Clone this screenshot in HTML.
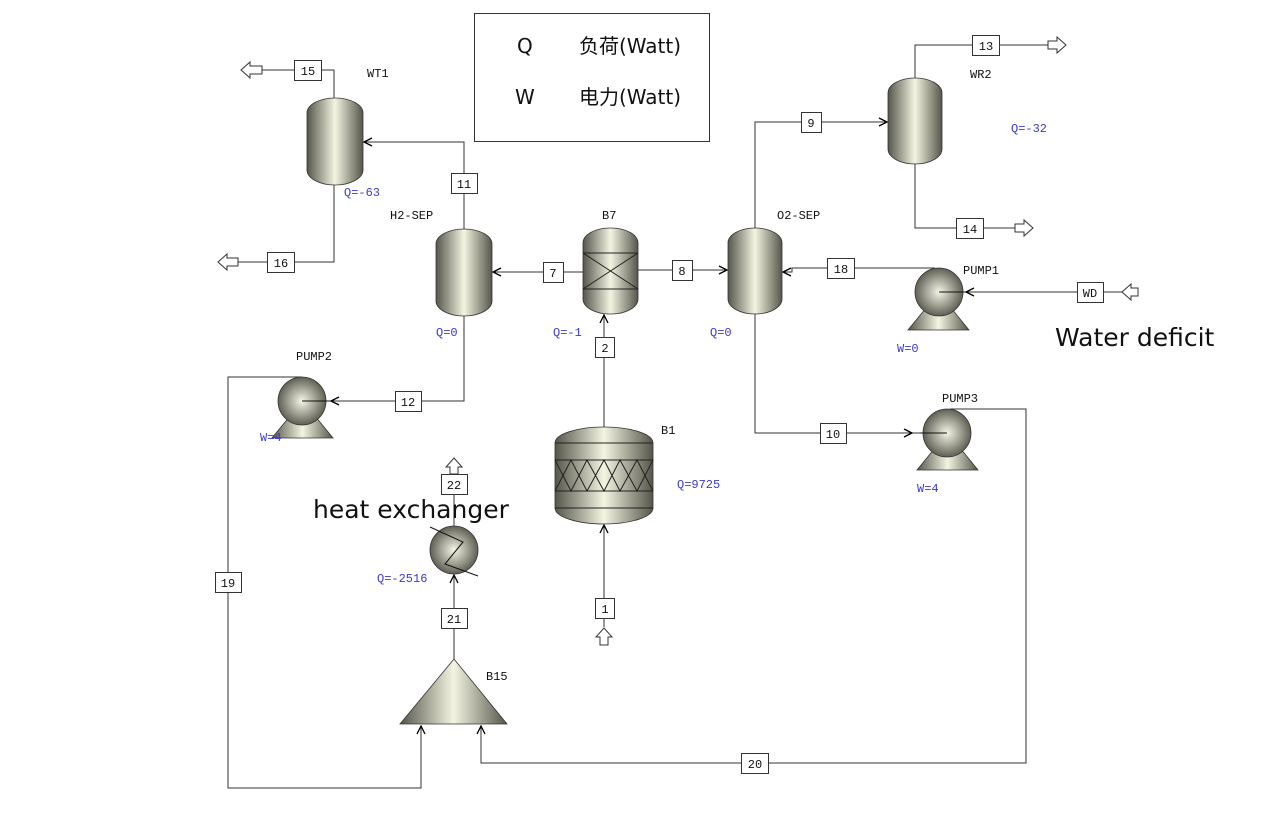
<!DOCTYPE html>
<html><head><meta charset="utf-8"><style>
html,body{margin:0;padding:0;background:#fff;}
svg{display:block;}
.m{font-family:"Liberation Mono","DejaVu Sans Mono",monospace;font-size:12px;fill:#111;}
.b{font-family:"Liberation Mono","DejaVu Sans Mono",monospace;font-size:12px;fill:#3a3ad0;}
.big{font-family:"DejaVu Sans","Liberation Sans",sans-serif;font-size:25px;fill:#111;}
.lg{font-family:"DejaVu Sans","Liberation Sans","Noto Sans CJK SC",sans-serif;font-size:20px;fill:#111;}
</style></head><body>
<svg width="1269" height="817" viewBox="0 0 1269 817" xmlns="http://www.w3.org/2000/svg">
<defs>
<linearGradient id="g" x1="0" x2="1" y1="0" y2="0">
<stop offset="0" stop-color="#55554a"/><stop offset="0.5" stop-color="#f4f4e2"/><stop offset="1" stop-color="#55554a"/>
</linearGradient>
<radialGradient id="rg" cx="0.5" cy="0.5" r="0.55">
<stop offset="0" stop-color="#f6f6e6"/><stop offset="1" stop-color="#505046"/>
</radialGradient>
<marker id="ar" markerWidth="10" markerHeight="10" refX="9" refY="5" orient="auto" markerUnits="userSpaceOnUse">
<path d="M1,1 L9,5 L1,9" fill="none" stroke="#000" stroke-width="1.3"/>
</marker>
</defs>
<g fill="none" stroke="#333" stroke-width="1">
<rect x="474.5" y="13.5" width="235" height="128"/>
<polyline points="334,98 334,70 262,70"/>
<polyline points="334,185 334,262 238,262"/>
<polyline points="464,229 464,142 364,142" marker-end="url(#ar)"/>
<polyline points="583,272 493,272" marker-end="url(#ar)"/>
<polyline points="638,270 727,270" marker-end="url(#ar)"/>
<polyline points="755,228 755,122 887,122" marker-end="url(#ar)"/>
<polyline points="915,78 915,45 1048,45"/>
<polyline points="915,164 915,228 1015,228"/>
<polyline points="935,268 792,268 792,272 783,272" marker-end="url(#ar)"/>
<polyline points="1122,292 940,292"/>
<line x1="980" y1="292" x2="966" y2="292" marker-end="url(#ar)"/>
<polyline points="755,314 755,433 948,433"/>
<line x1="900" y1="433" x2="912" y2="433" marker-end="url(#ar)"/>
<polyline points="950,409 1026,409 1026,763 481,763 481,726" marker-end="url(#ar)"/>
<polyline points="464,316 464,401 302,401"/>
<line x1="345" y1="401" x2="331" y2="401" marker-end="url(#ar)"/>
<polyline points="302,377 228,377 228,788 421,788 421,726" marker-end="url(#ar)"/>
<polyline points="604,427 604,315" marker-end="url(#ar)"/>
<polyline points="604,627 604,525" marker-end="url(#ar)"/>
<polyline points="454,659 454,575" marker-end="url(#ar)"/>
<polyline points="454,526 454,474"/>
</g>
<g fill="#fff" stroke="#333" stroke-width="1">
<path d="M262,66 L250,66 L250,62 L241,70 L250,78 L250,74 L262,74 Z"/>
<path d="M238,258 L227,258 L227,254 L218,262 L227,270 L227,266 L238,266 Z"/>
<path d="M1048,41 L1057,41 L1057,37 L1066,45 L1057,53 L1057,49 L1048,49 Z"/>
<path d="M1015,224 L1024,224 L1024,220 L1033,228 L1024,236 L1024,232 L1015,232 Z"/>
<path d="M1138,288 L1131,288 L1131,284 L1122,292 L1131,300 L1131,296 L1138,296 Z"/>
<path d="M600,645 L600,637 L596,637 L604,628 L612,637 L608,637 L608,645 Z"/>
<path d="M450,474 L450,467 L446,467 L454,458 L462,467 L458,467 L458,474 Z"/>
</g>
<g stroke="#333" stroke-width="0.8" fill="url(#g)">
<rect x="307" y="98" width="56" height="87" rx="28" ry="15"/>
<rect x="436" y="229" width="56" height="87" rx="28" ry="15"/>
<rect x="583" y="228" width="55" height="86" rx="27" ry="15"/>
<rect x="728" y="228" width="54" height="86" rx="27" ry="15"/>
<rect x="888" y="78" width="54" height="86" rx="27" ry="15"/>
<rect x="555" y="427" width="98" height="97" rx="49" ry="16"/>
</g>
<g stroke="#222" stroke-width="1" fill="none">
<line x1="583" y1="253" x2="638" y2="253"/><line x1="583" y1="289" x2="638" y2="289"/>
<line x1="583" y1="253" x2="638" y2="289"/><line x1="638" y1="253" x2="583" y2="289"/>
<line x1="555" y1="443" x2="653" y2="443"/><line x1="555" y1="460" x2="653" y2="460"/>
<line x1="555" y1="491" x2="653" y2="491"/><line x1="555" y1="508" x2="653" y2="508"/>
<polyline points="555,460 571,491 587,460 604,491 620,460 637,491 653,460"/>
<polyline points="555,491 571,460 587,491 604,460 620,491 637,460 653,491"/>
</g>
<g stroke="#333" stroke-width="0.8">
<polygon points="272,438 333,438 315,416 290,416" fill="url(#g)"/>
<circle cx="302" cy="401" r="24" fill="url(#rg)"/>
<polygon points="908,330 969,330 951,308 926,308" fill="url(#g)"/>
<circle cx="939" cy="292" r="24" fill="url(#rg)"/>
<polygon points="917,470 978,470 960,448 935,448" fill="url(#g)"/>
<circle cx="947" cy="433" r="24" fill="url(#rg)"/>
<circle cx="454" cy="550" r="24" fill="url(#rg)"/>
<polygon points="454,659 507,724 400,724" fill="url(#g)"/>
</g>
<g stroke="#111" stroke-width="1" fill="none">
<polyline points="430,527 463,542 445,564 478,576"/>
<line x1="302" y1="401" x2="330" y2="401"/>
<line x1="939" y1="292" x2="965" y2="292"/>
<line x1="947" y1="433" x2="920" y2="433"/>
</g>
<g fill="#fff" stroke="#333" stroke-width="1">
<rect x="294.5" y="60.5" width="27" height="20"/>
<rect x="267.5" y="252.5" width="27" height="20"/>
<rect x="451.5" y="173.5" width="26" height="20"/>
<rect x="543.5" y="262.5" width="20" height="20"/>
<rect x="672.5" y="260.5" width="20" height="20"/>
<rect x="801.5" y="112.5" width="20" height="20"/>
<rect x="972.5" y="35.5" width="27" height="20"/>
<rect x="956.5" y="218.5" width="27" height="20"/>
<rect x="827.5" y="258.5" width="27" height="20"/>
<rect x="1077.5" y="282.5" width="26" height="20"/>
<rect x="820.5" y="423.5" width="26" height="20"/>
<rect x="741.5" y="753.5" width="27" height="20"/>
<rect x="395.5" y="391.5" width="26" height="20"/>
<rect x="215.5" y="572.5" width="26" height="20"/>
<rect x="595.5" y="337.5" width="19" height="20"/>
<rect x="595.5" y="598.5" width="19" height="20"/>
<rect x="441.5" y="608.5" width="26" height="20"/>
<rect x="441.5" y="474.5" width="26" height="20"/>
</g>
<g class="m" text-anchor="middle">
<text x="308" y="75">15</text><text x="281" y="267">16</text><text x="464" y="188">11</text>
<text x="553" y="277">7</text><text x="682" y="275">8</text><text x="811" y="127">9</text>
<text x="986" y="50">13</text><text x="970" y="233">14</text><text x="841" y="273">18</text>
<text x="1090" y="297">WD</text><text x="833" y="438">10</text><text x="755" y="768">20</text>
<text x="408" y="406">12</text><text x="228" y="587">19</text><text x="605" y="352">2</text>
<text x="605" y="613">1</text><text x="454" y="623">21</text><text x="454" y="489">22</text>
</g>
<g class="m">
<text x="367" y="77">WT1</text><text x="390" y="219">H2-SEP</text><text x="602" y="219">B7</text>
<text x="777" y="219">O2-SEP</text><text x="970" y="78">WR2</text><text x="963" y="274">PUMP1</text>
<text x="296" y="360">PUMP2</text><text x="942" y="402">PUMP3</text><text x="661" y="434">B1</text>
<text x="486" y="680">B15</text>
</g>
<g class="b">
<text x="1011" y="132">Q=-32</text><text x="677" y="488">Q=9725</text><text x="377" y="582">Q=-2516</text>
<text x="344" y="196">Q=-63</text><text x="436" y="336">Q=0</text><text x="553" y="336">Q=-1</text>
<text x="710" y="336">Q=0</text><text x="897" y="352">W=0</text><text x="260" y="441">W=4</text>
<text x="917" y="492">W=4</text>
</g>
<text class="big" x="1055" y="346">Water deficit</text>
<text class="big" x="313" y="518">heat exchanger</text>
<text class="lg" x="517" y="53">Q</text><text class="lg" x="579" y="53">负荷(Watt)</text>
<text class="lg" x="515" y="104">W</text><text class="lg" x="579" y="104">电力(Watt)</text>
</svg>
</body></html>
